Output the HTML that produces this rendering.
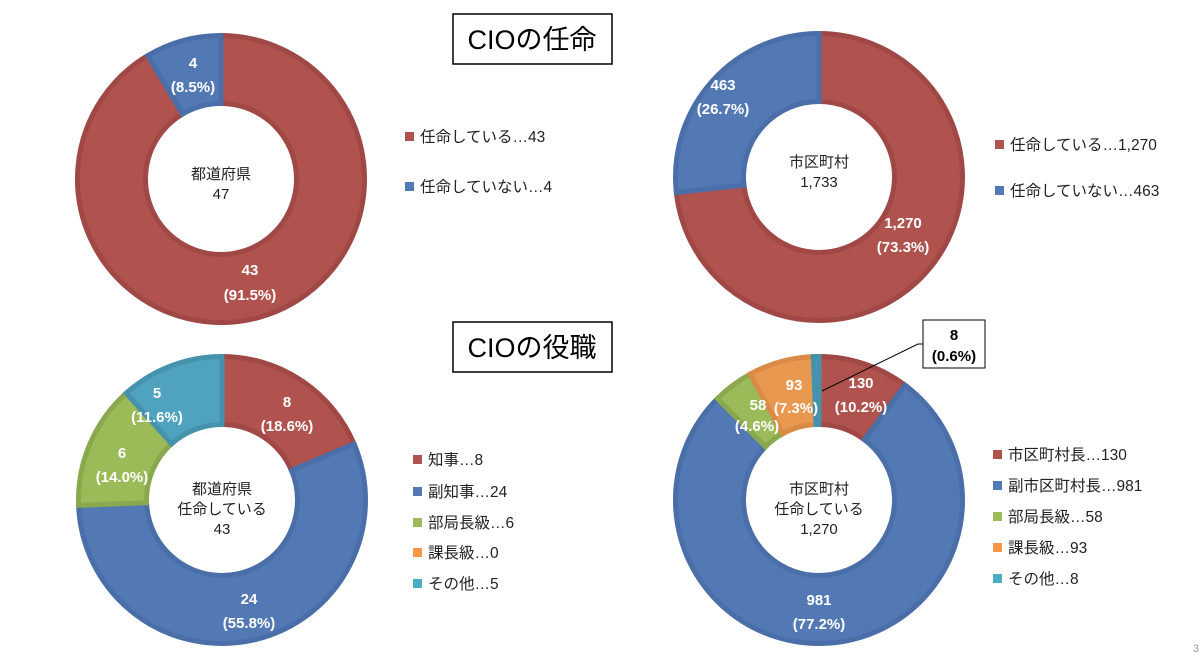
<!DOCTYPE html>
<html><head><meta charset="utf-8">
<style>
html,body{margin:0;padding:0;background:#fff;}
body{width:1200px;height:657px;overflow:hidden;position:relative;font-family:"Liberation Sans","Noto Sans CJK JP",sans-serif;}
svg{position:absolute;left:0;top:0;}
.w{fill:#fff;font-weight:bold;font-size:15px;text-anchor:middle;font-family:"Liberation Sans","Noto Sans CJK JP",sans-serif;}
.c{fill:#222;font-size:15px;text-anchor:middle;font-family:"Liberation Sans","Noto Sans CJK JP",sans-serif;}
.l{fill:#222;font-size:15.5px;font-family:"Liberation Sans","Noto Sans CJK JP",sans-serif;}
.t{fill:#000;font-size:27px;text-anchor:middle;font-family:"Liberation Sans","Noto Sans CJK JP",sans-serif;}
</style></head><body>
<svg width="1200" height="657" viewBox="0 0 1200 657">
<g id="donuts"></g>
<!-- titles -->
<rect x="453" y="14" width="159" height="50" fill="#fff" stroke="#000" stroke-width="1.5"/>
<text class="t" x="532" y="49">CIOの任命</text>
<rect x="453" y="322" width="159" height="50" fill="#fff" stroke="#000" stroke-width="1.5"/>
<text class="t" x="532" y="357">CIOの役職</text>
<!-- TL labels -->
<text class="w" x="193" y="68">4</text><text class="w" x="193" y="92">(8.5%)</text>
<text class="w" x="250" y="275">43</text><text class="w" x="250" y="300">(91.5%)</text>
<text class="c" x="221" y="179">都道府県</text><text class="c" x="221" y="199">47</text>
<!-- TR -->
<text class="w" x="723" y="90">463</text><text class="w" x="723" y="114">(26.7%)</text>
<text class="w" x="903" y="228">1,270</text><text class="w" x="903" y="252">(73.3%)</text>
<text class="c" x="819" y="167">市区町村</text><text class="c" x="819" y="187">1,733</text>
<!-- BL -->
<text class="w" x="287" y="407">8</text><text class="w" x="287" y="431">(18.6%)</text>
<text class="w" x="249" y="604">24</text><text class="w" x="249" y="628">(55.8%)</text>
<text class="w" x="122" y="458">6</text><text class="w" x="122" y="482">(14.0%)</text>
<text class="w" x="157" y="398">5</text><text class="w" x="157" y="422">(11.6%)</text>
<text class="c" x="222" y="494">都道府県</text><text class="c" x="222" y="514">任命している</text><text class="c" x="222" y="534">43</text>
<!-- BR -->
<text class="w" x="861" y="388">130</text><text class="w" x="861" y="412">(10.2%)</text>
<text class="w" x="794" y="390">93</text><text class="w" x="796" y="413">(7.3%)</text>
<text class="w" x="758" y="410">58</text><text class="w" x="757" y="431">(4.6%)</text>
<text class="w" x="819" y="605">981</text><text class="w" x="819" y="629">(77.2%)</text>
<text class="c" x="819" y="494">市区町村</text><text class="c" x="819" y="514">任命している</text><text class="c" x="819" y="534">1,270</text>
<line x1="822" y1="391" x2="918" y2="344" stroke="#000" stroke-width="1"/>
<line x1="918" y1="344" x2="923" y2="344" stroke="#000" stroke-width="1"/>
<rect x="923" y="320" width="62" height="48" fill="#fff" stroke="#000" stroke-width="1"/>
<text x="954" y="340" style="font-weight:bold;font-size:15px;text-anchor:middle;fill:#000">8</text>
<text x="954" y="361" style="font-weight:bold;font-size:15px;text-anchor:middle;fill:#000">(0.6%)</text>
<!-- legends -->
<rect x="405" y="132" width="9" height="9" fill="#b0534f"/><text class="l" x="420" y="142">任命している…43</text>
<rect x="405" y="182" width="9" height="9" fill="#5379b5"/><text class="l" x="420" y="192">任命していない…4</text>
<rect x="995" y="140" width="9" height="9" fill="#b0534f"/><text class="l" x="1010" y="150">任命している…1,270</text>
<rect x="995" y="186" width="9" height="9" fill="#5379b5"/><text class="l" x="1010" y="196">任命していない…463</text>
<rect x="413" y="455" width="9" height="9" fill="#b0534f"/><text class="l" x="428" y="465">知事…8</text>
<rect x="413" y="487" width="9" height="9" fill="#5379b5"/><text class="l" x="428" y="497">副知事…24</text>
<rect x="413" y="518" width="9" height="9" fill="#9bbb59"/><text class="l" x="428" y="528">部局長級…6</text>
<rect x="413" y="548" width="9" height="9" fill="#f79646"/><text class="l" x="428" y="558">課長級…0</text>
<rect x="413" y="579" width="9" height="9" fill="#4bacc6"/><text class="l" x="428" y="589">その他…5</text>
<rect x="993" y="450" width="9" height="9" fill="#b0534f"/><text class="l" x="1008" y="460">市区町村長…130</text>
<rect x="993" y="481" width="9" height="9" fill="#5379b5"/><text class="l" x="1008" y="491">副市区町村長…981</text>
<rect x="993" y="512" width="9" height="9" fill="#9bbb59"/><text class="l" x="1008" y="522">部局長級…58</text>
<rect x="993" y="543" width="9" height="9" fill="#f79646"/><text class="l" x="1008" y="553">課長級…93</text>
<rect x="993" y="574" width="9" height="9" fill="#4bacc6"/><text class="l" x="1008" y="584">その他…8</text>
<text x="1193" y="652" style="font-size:11px;fill:#999">3</text>
</svg>
<script>
var C={r:["#b0534f","#9f4845"],b:["#5379b5","#4a6ea8"],g:["#9bbb59","#8aa94f"],o:["#e8994f","#d98a45"],c:["#4fa3bf","#4592ad"]};
var charts=[
 [221,179,[[43,"r"],[4,"b"]]],
 [819,177,[[1270,"r"],[463,"b"]]],
 [222,500,[[8,"r"],[24,"b"],[6,"g"],[0,"o"],[5,"c"]]],
 [819,500,[[130,"r"],[981,"b"],[58,"g"],[93,"o"],[8,"c"]]]
];
var R=146,r=73,out="";
function pt(cx,cy,rad,a){return (cx+rad*Math.sin(a)).toFixed(2)+","+(cy-rad*Math.cos(a)).toFixed(2);}
charts.forEach(function(ch){
 var cx=ch[0],cy=ch[1],d=ch[2],tot=0;d.forEach(function(x){tot+=x[0];});
 var a=0;
 d.forEach(function(x){
  if(!x[0])return;
  var b=a+x[0]/tot*2*Math.PI,lg=(b-a)>Math.PI?1:0;
  var ro=R-2.5,ri=r+2.5;
  var p="M"+pt(cx,cy,ro,a)+"A"+ro+","+ro+" 0 "+lg+" 1 "+pt(cx,cy,ro,b)+"L"+pt(cx,cy,ri,b)+"A"+ri+","+ri+" 0 "+lg+" 0 "+pt(cx,cy,ri,a)+"Z";
  out+='<path d="'+p+'" fill="'+C[x[1]][0]+'" stroke="'+C[x[1]][1]+'" stroke-width="5" stroke-linejoin="miter"/>';
  a=b;
 });
});
document.getElementById("donuts").innerHTML=out;
</script>
</body></html>
